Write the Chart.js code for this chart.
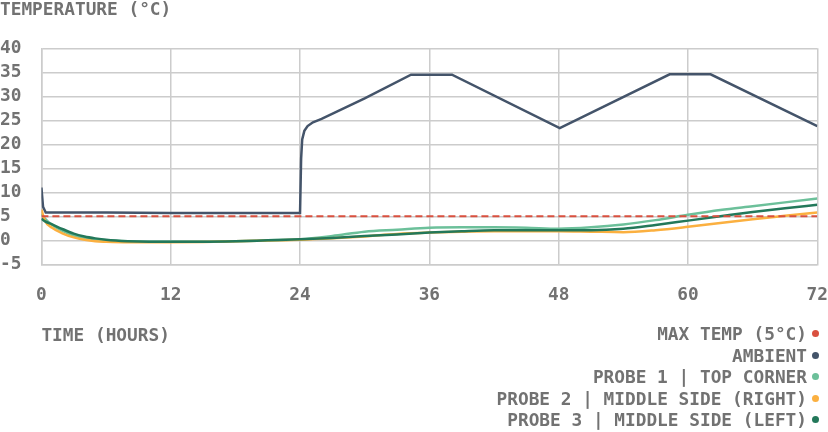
<!DOCTYPE html>
<html>
<head>
<meta charset="utf-8">
<script src="https://cdn.jsdelivr.net/npm/chart.js@4"></script>
<style>
  body { margin: 0; background: #fff; }
  #wrap { position: relative; width: 828px; height: 432px; }
  #legend {
    position: absolute; right: 9px; top: 323px;
    font-family: "DejaVu Sans Mono", monospace; font-size: 17.8px; font-weight: bold; color: #727272;
  }
  .item { display: flex; justify-content: flex-end; align-items: center; height: 21.5px; }
  .dot { width: 7px; height: 7px; border-radius: 50%; margin-left: 5px; }
</style>
</head>
<body>
<div id="wrap">
  <canvas id="canvas" width="828" height="432"></canvas>
  <div id="legend"></div>
</div>
<script>
// ambient sensor, hours / degC
var ambientHours = [0, 0.15, 0.4, 6, 12, 18, 24, 24.1, 24.2, 24.4, 24.7, 25.2, 26, 30, 34.3, 38.1, 48.1, 58.3, 62.1, 72];
var ambientTemp = [11, 7, 5.8, 5.8, 5.7, 5.7, 5.7, 17, 21, 22.8, 23.8, 24.6, 25.3, 29.6, 34.5, 34.5, 23.4, 34.6, 34.6, 23.8];

// probes share one time base
var probeHours = [0, 0.3, 1, 2, 3, 4, 5, 6, 8, 10, 12, 15, 18, 21, 24, 27, 30, 33, 36, 39, 42, 45, 48, 51, 54, 57, 60, 63, 66, 69, 72];
var probe1 = [5.5, 4.6, 3.2, 1.9, 1.0, 0.5, 0.2, 0.0, -0.2, -0.3, -0.3, -0.3, -0.2, 0.0, 0.2, 0.9, 1.8, 2.2, 2.6, 2.7, 2.7, 2.6, 2.4, 2.7, 3.3, 4.2, 5.3, 6.3, 7.1, 7.9, 8.7];
var probe2 = [6.4, 4.2, 2.6, 1.4, 0.6, 0.1, -0.2, -0.3, -0.4, -0.4, -0.4, -0.35, -0.2, -0.05, 0.1, 0.4, 0.8, 1.3, 1.6, 1.8, 1.9, 1.9, 1.9, 1.8, 1.7, 2.1, 2.8, 3.6, 4.4, 5.1, 5.8];
var probe3 = [4.5, 4.0, 3.3, 2.3, 1.4, 0.8, 0.4, 0.1, -0.2, -0.3, -0.3, -0.3, -0.2, 0.0, 0.2, 0.5, 0.9, 1.2, 1.6, 1.9, 2.1, 2.1, 2.1, 2.1, 2.4, 3.2, 4.1, 5.0, 5.9, 6.7, 7.4];

var maxTempHours = [0, 72];
var maxTemp = [5, 5];

var xTicks = [0, 12, 24, 36, 48, 60, 72];
var yTicks = [-5, 0, 5, 10, 15, 20, 25, 30, 35, 40];

var labels = ["MAX TEMP (5°C)", "AMBIENT", "PROBE 1 | TOP CORNER", "PROBE 2 | MIDDLE SIDE (RIGHT)", "PROBE 3 | MIDDLE SIDE (LEFT)"];
var colors = ["#d9503f", "#44546a", "#6cc09a", "#fbb040", "#23785a"];

function toPoints(xs, ys) {
    return xs.map(function (x, i) { return { x: x, y: ys[i] }; });
}

var font = { family: "'DejaVu Sans Mono', monospace", size: 17.8, weight: 'bold' };
var grey = "#727272";
var gridGrey = "#cccccc";

var chartData = {
    datasets: [{
        label: labels[0],
        data: toPoints(maxTempHours, maxTemp),
        borderColor: colors[0],
        borderWidth: 2,
        borderDash: [7, 4],
        order: 0
    }, {
        label: labels[1],
        data: toPoints(ambientHours, ambientTemp),
        borderColor: colors[1],
        borderWidth: 2.5,
        tension: 0,
        order: 1
    }, {
        label: labels[2],
        data: toPoints(probeHours, probe1),
        borderColor: colors[2],
        borderWidth: 2.5,
        cubicInterpolationMode: 'monotone',
        order: 4
    }, {
        label: labels[3],
        data: toPoints(probeHours, probe2),
        borderColor: colors[3],
        borderWidth: 2.5,
        cubicInterpolationMode: 'monotone',
        order: 3
    }, {
        label: labels[4],
        data: toPoints(probeHours, probe3),
        borderColor: colors[4],
        borderWidth: 2.5,
        cubicInterpolationMode: 'monotone',
        order: 2
    }]
};

// html legend, one entry per line, dot to the right
var legend = document.getElementById("legend");
labels.forEach(function (txt, i) {
    var row = document.createElement("div");
    row.className = "item";
    var span = document.createElement("span");
    span.textContent = txt;
    var dot = document.createElement("span");
    dot.className = "dot";
    dot.style.background = colors[i];
    row.appendChild(span);
    row.appendChild(dot);
    legend.appendChild(row);
});

window.onload = function () {
    var ctx = document.getElementById("canvas").getContext("2d");
    window.tempChart = new Chart(ctx, {
        type: 'line',
        data: chartData,
        options: {
            responsive: false,
            animation: false,
            layout: { padding: { left: 0, right: -3, top: 0, bottom: 85 } },
            elements: { point: { radius: 0 } },
            plugins: {
                legend: { display: false },
                tooltip: { enabled: false },
                title: {
                    display: true,
                    text: 'TEMPERATURE (°C)',
                    align: 'start',
                    color: grey,
                    font: font,
                    padding: { top: 0, bottom: 27 }
                }
            },
            scales: {
                x: {
                    type: 'linear',
                    min: 0,
                    max: 72,
                    afterBuildTicks: function (axis) {
                        axis.ticks = xTicks.map(function (v) { return { value: v }; });
                    },
                    // invisible tick marks give the vertical gap without side padding
                    grid: { color: gridGrey, lineWidth: 1.5, drawTicks: true, tickLength: 20, tickColor: 'rgba(0,0,0,0)' },
                    border: { color: gridGrey, width: 1.5 },
                    ticks: { color: grey, font: font, padding: 0, maxRotation: 0, autoSkip: false },
                    title: {
                        display: true,
                        text: 'TIME (HOURS)',
                        align: 'start',
                        color: grey,
                        font: font,
                        padding: { top: 20, bottom: 0 }
                    }
                },
                y: {
                    min: -5,
                    max: 40,
                    afterBuildTicks: function (axis) {
                        axis.ticks = yTicks.map(function (v) { return { value: v }; });
                    },
                    grid: { color: gridGrey, lineWidth: 1.5, drawTicks: false },
                    border: { color: gridGrey, width: 1.5 },
                    ticks: { color: grey, font: font, padding: 10, crossAlign: 'far', autoSkip: false }
                }
            }
        }
    });
};
</script>
</body>
</html>
